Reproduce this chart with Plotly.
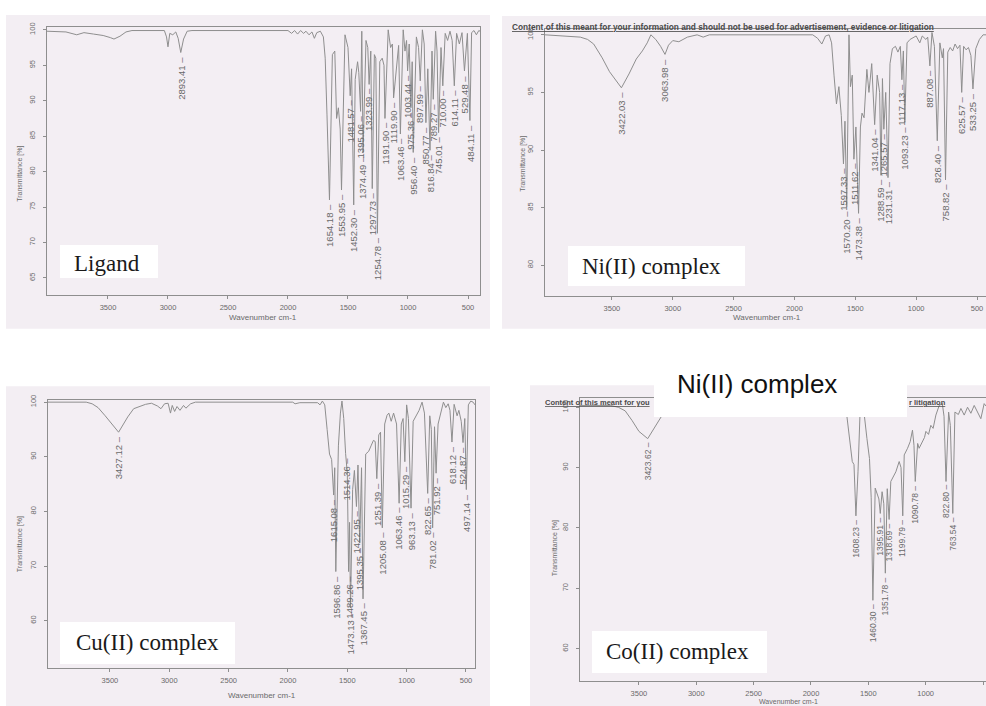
import plotly.graph_objects as go

W, H = 986, 706

# ---------------- DATA ----------------
x_ticks = [3500, 3000, 2500, 2000, 1500, 1000, 500]

# Ligand
lig_base_wn = [4008, 3850, 3760, 3700, 3620, 3540, 3480, 3450, 3400, 3350, 3300, 3030, 3012, 3000, 2985, 2960,
               2935, 2915, 2870, 2840, 2800, 2000, 1970, 1945, 1920, 1895, 1870, 1850, 1825, 1800, 1780, 1760,
               1730, 1705, 1690, 1675, 1630, 1610, 1595, 1580, 1565, 1525, 1500, 1470, 1440, 1420, 1410, 1385,
               1350, 1335, 1310, 1280, 1268, 1235, 1215, 1200, 1165, 1145, 1130, 1090, 1078, 1040, 1025, 1012,
               990, 965, 930, 912, 880, 865, 835, 800, 770, 758, 725, 690, 670, 650, 632, 595, 572, 550, 505,
               470, 450, 430, 410, 400]
lig_base_t = [99.8, 99.7, 99.3, 99.6, 99.4, 99.2, 98.9, 98.7, 99.1, 99.7, 99.9, 99.9, 99.0, 97.6, 99.5, 99.3,
              99.7, 98.8, 98.7, 99.8, 99.9, 99.9, 99.5, 99.9, 99.4, 99.9, 99.5, 99.8, 99.3, 99.7, 98.8, 99.6,
              99.8, 99.0, 96.0, 88.0, 96.5, 97.0, 87.5, 89.0, 86.0, 99.3, 97.5, 94.5, 93.0, 95.5, 94.0, 99.8,
              98.5, 97.5, 97.0, 96.5, 96.0, 95.5, 96.0, 95.0, 100.0, 97.5, 98.0, 96.5, 97.8, 100.0, 97.0, 98.5,
              98.0, 95.5, 99.0, 97.5, 100.0, 98.0, 94.5, 97.0, 99.8, 97.0, 97.5, 99.5, 98.5, 99.8, 98.5, 99.5,
              98.0, 99.6, 99.5, 99.6, 99.9, 99.3, 99.9, 99.8]
lig_peak_wn = [2893.41, 1654.18, 1553.95, 1481.57, 1452.30, 1395.06, 1374.49, 1323.99, 1297.73, 1254.78,
               1191.90, 1119.90, 1063.46, 1003.44, 975.36, 956.40, 897.99, 850.77, 816.84, 789.27, 745.01,
               710.00, 614.11, 529.48, 484.11]
lig_peak_t = [96.8, 76.0, 77.4, 90.7, 75.3, 88.5, 82.7, 92.3, 77.6, 71.3,
              87.5, 90.4, 85.3, 94.2, 89.0, 82.7, 92.8, 86.9, 83.0, 90.2, 85.5,
              92.1, 92.1, 94.2, 87.2]

# Ni(II) complex
ni_base_wn = [4050, 3850, 3760, 3700, 3650, 3580, 3520, 3360, 3300, 3250, 3210, 3180, 3140, 3100, 3035, 3000,
              2950, 2880, 2800, 2750, 2700, 1850, 1810, 1775, 1745, 1715, 1695, 1675, 1655, 1635, 1615, 1585,
              1552, 1540, 1525, 1495, 1458, 1445, 1428, 1405, 1388, 1365, 1320, 1300, 1277, 1250, 1215, 1195,
              1170, 1150, 1130, 1105, 1075, 1050, 1000, 970, 950, 920, 905, 870, 850, 805, 785, 775, 740, 720,
              700, 680, 660, 640, 610, 590, 570, 550, 510, 480, 450, 426]
ni_base_t = [100.0, 99.9, 99.8, 99.6, 99.2, 98.0, 96.8, 96.6, 97.9, 98.6, 99.3, 100.0, 99.6, 99.0, 99.1, 99.5,
             99.4, 99.8, 100.0, 99.8, 100.0, 100.0, 99.7, 99.2, 99.9, 100.0, 99.3, 96.5, 94.0, 95.5, 93.0, 92.5,
             100.0, 95.5, 96.5, 92.0, 92.0, 93.2, 92.8, 97.0, 95.0, 97.5, 96.5, 95.0, 96.2, 95.0, 97.5, 98.8,
             99.0, 98.5, 99.0, 98.6, 99.3, 99.6, 99.9, 99.3, 99.9, 99.6, 99.8, 100.2, 99.0, 99.3, 98.0, 98.8,
             98.5, 98.9, 98.6, 99.2, 98.8, 99.1, 99.0, 98.7, 98.9, 98.2, 98.8, 99.6, 100.0, 100.0]
ni_peak_wn = [3422.03, 3063.98, 1597.33, 1570.20, 1511.62, 1473.38, 1341.04, 1288.59, 1265.57, 1231.31,
              1117.13, 1093.23, 887.08, 826.40, 758.82, 625.57, 533.25]
ni_peak_t = [95.4, 98.3, 88.8, 85.1, 89.2, 84.5, 92.2, 87.8, 91.8, 87.6,
             96.1, 92.4, 97.3, 90.8, 87.4, 95.0, 95.3]

# Cu(II) complex
cu_base_wn = [4022, 3700, 3650, 3600, 3540, 3350, 3300, 3200, 3150, 3100, 3070, 3040, 3010, 2990, 2975, 2955,
              2935, 2910, 2880, 2860, 2820, 2780, 1960, 1940, 1900, 1750, 1730, 1710, 1690, 1670, 1650, 1632,
              1606, 1575, 1558, 1545, 1530, 1500, 1481, 1455, 1440, 1410, 1380, 1345, 1320, 1300, 1280, 1265,
              1235, 1220, 1185, 1165, 1150, 1130, 1110, 1085, 1045, 1030, 1000, 985, 945, 920, 895, 870, 850,
              805, 792, 765, 735, 710, 690, 670, 650, 635, 600, 575, 560, 540, 510, 480, 460, 440, 424]
cu_base_t = [100.0, 100.0, 99.7, 99.0, 97.5, 97.3, 98.8, 99.6, 99.8, 99.3, 98.8, 99.7, 99.8, 98.0, 99.4, 98.3,
             99.2, 98.5, 99.4, 98.9, 99.7, 100.0, 100.0, 99.7, 99.9, 99.9, 99.5, 100.2, 99.5, 95.0, 90.5, 89.5,
             88.0, 92.0, 98.0, 100.2, 97.0, 87.0, 78.0, 84.0, 87.5, 88.5, 88.0, 90.5, 91.0, 92.0, 93.0, 92.8,
             94.0, 94.5, 96.0, 97.6, 98.0, 96.5, 98.0, 96.0, 96.0, 97.0, 99.5, 97.0, 96.5, 97.5, 98.5, 100.0, 98.0,
             97.5, 95.0, 95.5, 96.0, 98.5, 100.0, 99.0, 99.7, 98.5, 99.6, 97.5, 98.5, 96.5, 97.0, 99.5, 100.2,
             100.0, 99.5]
cu_peak_wn = [3427.12, 1615.08, 1596.86, 1514.36, 1489.26, 1473.13, 1422.95, 1395.35, 1367.45, 1251.39,
              1205.08, 1063.46, 1015.29, 963.13, 822.65, 781.02, 751.92, 618.12, 524.87, 497.14]
cu_peak_t = [94.5, 83.0, 69.0, 90.6, 69.0, 62.4, 80.9, 74.2, 64.0, 86.0,
             77.0, 81.5, 89.1, 80.6, 83.3, 77.0, 87.0, 92.7, 92.6, 84.0]

# Co(II) complex
co_base_wn = [4014, 3750, 3680, 3620, 3560, 3500, 3350, 3300, 3250, 3100, 2950, 2800, 2000, 1800, 1720, 1690,
              1665, 1640, 1625, 1590, 1572, 1552, 1535, 1512, 1490, 1475, 1440, 1420, 1408, 1380, 1365, 1335,
              1304, 1280, 1260, 1231, 1215, 1187, 1158, 1135, 1115, 1102, 1070, 1057, 1027, 1010, 998, 975,
              955, 935, 911, 882, 855, 840, 800, 785, 745, 715, 693, 664, 635, 606, 577, 548, 519, 490, 474]
co_base_t = [100.3, 100.3, 100.0, 99.4, 97.8, 96.0, 97.0, 98.6, 99.6, 99.0, 99.4, 100.0, 100.0, 99.6, 99.4, 99.0,
             94.5, 91.0, 90.5, 89.3, 99.2, 99.8, 98.7, 94.8, 91.5, 85.0, 86.6, 85.5, 84.8, 86.0, 84.0, 86.5,
             87.7, 88.5, 89.3, 91.0, 90.0, 92.1, 93.2, 94.3, 96.2, 93.7, 94.0, 93.2, 94.3, 95.0, 96.0, 95.5,
             97.0, 96.5, 98.7, 100.3, 100.6, 98.5, 99.2, 97.0, 99.2, 98.8, 99.8, 98.7, 100.0, 99.0, 100.3, 99.2,
             98.1, 100.6, 100.2]
co_peak_wn = [3423.62, 1608.23, 1460.30, 1395.91, 1351.78, 1318.69, 1199.79, 1090.78, 822.80, 763.54]
co_peak_t = [94.8, 82.0, 68.0, 82.4, 72.5, 81.4, 82.0, 87.7, 87.7, 82.4]

panel_names = ["Ligand", "Ni(II) complex", "Cu(II) complex", "Co(II) complex"]
header_text = "Content of this meant for your information and should not be used for advertisement, evidence or litigation"
header_left = "Content of this meant for you"
header_right = "r litigation"
overlay_text = "Ni(II) complex"

# ---------------- LAYOUT / STYLE ----------------
SCAN_BG = "#f3eef3"
LINE_C = "#8e8e8e"
TXT_C = "#6a6a6a"
SANS = "Liberation Sans, Arial, sans-serif"
SERIF = "Liberation Serif, Times New Roman, serif"

panels = [
    dict(bw=lig_base_wn, bt=lig_base_t, pw=lig_peak_wn, pt=lig_peak_t,
         box=(47, 480, 22, 292), xr=[4008, 400], yr=[62.6, 100.42], yt=[65, 70, 75, 80, 85, 90, 95, 100],
         mirror_y=True, pk_font=9.5, bg=(6, 490, 10, 326),
         ytitle=(20, 170), xtitle=(263, 315), xt_font=8,
         name_box=(60, 158, 242, 275), name_pos=(72, 260)),
    dict(bw=ni_base_wn, bt=ni_base_t, pw=ni_peak_wn, pt=ni_peak_t,
         box=(545, 986, 24, 293), xr=[4050, 426], yr=[77.33, 100.52], yt=[80, 85, 90, 95, 100],
         mirror_y=False, pk_font=9.5, bg=(502, 986, 11, 326),
         ytitle=(523, 160), xtitle=(767, 315), xt_font=8,
         name_box=(568, 745, 243, 283), name_pos=(580, 263)),
    dict(bw=cu_base_wn, bt=cu_base_t, pw=cu_peak_wn, pt=cu_peak_t,
         box=(48, 475, 398, 668), xr=[4022, 424], yr=[51.3, 100.36], yt=[60, 70, 80, 90, 100],
         mirror_y=True, pk_font=9.5, bg=(6, 490, 384, 706),
         ytitle=(20, 543), xtitle=(262, 695), xt_font=8,
         name_box=(60, 235, 621, 663), name_pos=(74, 642)),
    dict(bw=co_base_wn, bt=co_base_t, pw=co_peak_wn, pt=co_peak_t,
         box=(580, 986, 396, 681), xr=[4014, 474], yr=[54.6, 101.5], yt=[60, 70, 80, 90, 100],
         mirror_y=False, pk_font=8.5, bg=(530, 986, 383, 706),
         ytitle=(555, 547), xtitle=(788, 701.5), xt_font=7,
         name_box=(592, 767, 630, 672), name_pos=(604, 651)),
]

fig = go.Figure()
shapes = []
annotations = []
layout = {}

for i, p in enumerate(panels):
    sfx = "" if i == 0 else str(i + 1)
    x0, x1, y0, y1 = p["box"]
    bx0, bx1, by0, by1 = p["bg"]
    shapes.append(dict(type="rect", xref="paper", yref="paper", x0=bx0 / W, x1=bx1 / W,
                       y0=1 - by1 / H, y1=1 - by0 / H, fillcolor=SCAN_BG, line=dict(width=0), layer="below"))

    layout["xaxis" + sfx] = dict(domain=[x0 / W, x1 / W], range=p["xr"], anchor="y" + sfx,
                                 tickvals=x_ticks, ticks="outside", ticklen=3, tickcolor=LINE_C,
                                 showline=True, linecolor=LINE_C, linewidth=1, mirror=True,
                                 showgrid=False, zeroline=False, ticklabelstandoff=2,
                                 tickfont=dict(family=SANS, size=7.5, color=TXT_C))
    layout["yaxis" + sfx] = dict(domain=[1 - y1 / H, 1 - y0 / H], range=p["yr"], anchor="x" + sfx,
                                 tickvals=p["yt"], ticks="outside", ticklen=3, tickcolor=LINE_C,
                                 tickangle=-90, showline=True, linecolor=LINE_C, linewidth=1,
                                 mirror=p["mirror_y"], showgrid=False, zeroline=False, ticklabelstandoff=5,
                                 tickfont=dict(family=SANS, size=7.5, color=TXT_C))

    pts = sorted(zip(list(p["bw"]) + list(p["pw"]), list(p["bt"]) + list(p["pt"])), key=lambda a: -a[0])
    fig.add_trace(go.Scatter(x=[a[0] for a in pts], y=[a[1] for a in pts], mode="lines",
                             line=dict(color=LINE_C, width=1), xaxis="x" + sfx, yaxis="y" + sfx,
                             hoverinfo="skip", showlegend=False))

    for wn, t in zip(p["pw"], p["pt"]):
        annotations.append(dict(x=wn, y=t, xref="x" + sfx, yref="y" + sfx, text=f"{wn:.2f} \u2013",
                                textangle=-90, showarrow=False, xanchor="center", yanchor="top", yshift=-2,
                                font=dict(family=SANS, size=p["pk_font"], color=TXT_C)))

    tx, ty = p["ytitle"]
    annotations.append(dict(x=tx / W, y=1 - ty / H, xref="paper", yref="paper", text="Transmittance [%]",
                            textangle=-90, showarrow=False, xanchor="center", yanchor="middle",
                            font=dict(family=SANS, size=7, color=TXT_C)))
    tx, ty = p["xtitle"]
    annotations.append(dict(x=tx / W, y=1 - ty / H, xref="paper", yref="paper", text="Wavenumber cm-1",
                            showarrow=False, xanchor="center", yanchor="middle",
                            font=dict(family=SANS, size=p["xt_font"], color=TXT_C)))

# header lines (scan watermark)
annotations.append(dict(x=510 / W, y=1 - 22 / H, xref="paper", yref="paper", text="<b><u>" + header_text + "</u></b>",
                        showarrow=False, xanchor="left", yanchor="middle",
                        font=dict(family=SANS, size=8.3, color="#4a4a4a")))
annotations.append(dict(x=543 / W, y=1 - 400 / H, xref="paper", yref="paper", text="<b><u>" + header_left + "</u></b>",
                        showarrow=False, xanchor="left", yanchor="middle",
                        font=dict(family=SANS, size=7.5, color="#4a4a4a")))
annotations.append(dict(x=907 / W, y=1 - 400 / H, xref="paper", yref="paper", text="<b><u>" + header_right + "</u></b>",
                        showarrow=False, xanchor="left", yanchor="middle",
                        font=dict(family=SANS, size=7.5, color="#4a4a4a")))

# white name boxes + text
for i, p in enumerate(panels):
    bx0, bx1, by0, by1 = p["name_box"]
    annotations.append(dict(x=bx0 / W, y=1 - by0 / H, xref="paper", yref="paper", text=" ",
                            showarrow=False, xanchor="left", yanchor="top", width=bx1 - bx0, height=by1 - by0,
                            bgcolor="white", borderpad=0, borderwidth=0))
    nx, ny = p["name_pos"]
    annotations.append(dict(x=nx / W, y=1 - ny / H, xref="paper", yref="paper", text=panel_names[i],
                            showarrow=False, xanchor="left", yanchor="middle",
                            font=dict(family=SERIF, size=23, color="#1a1a1a")))

# overlay white box with sans label
annotations.append(dict(x=654 / W, y=1 - 368 / H, xref="paper", yref="paper", text=" ",
                        showarrow=False, xanchor="left", yanchor="top", width=253, height=47,
                        bgcolor="white", borderpad=0, borderwidth=0))
annotations.append(dict(x=675 / W, y=1 - 382 / H, xref="paper", yref="paper", text=overlay_text,
                        showarrow=False, xanchor="left", yanchor="middle",
                        font=dict(family=SANS, size=26, color="#111111")))

fig.update_layout(width=W, height=H, margin=dict(l=0, r=0, t=0, b=0),
                  paper_bgcolor="white", plot_bgcolor="rgba(0,0,0,0)",
                  shapes=shapes, annotations=annotations, showlegend=False, **layout)

fig.write_html("out.html")
